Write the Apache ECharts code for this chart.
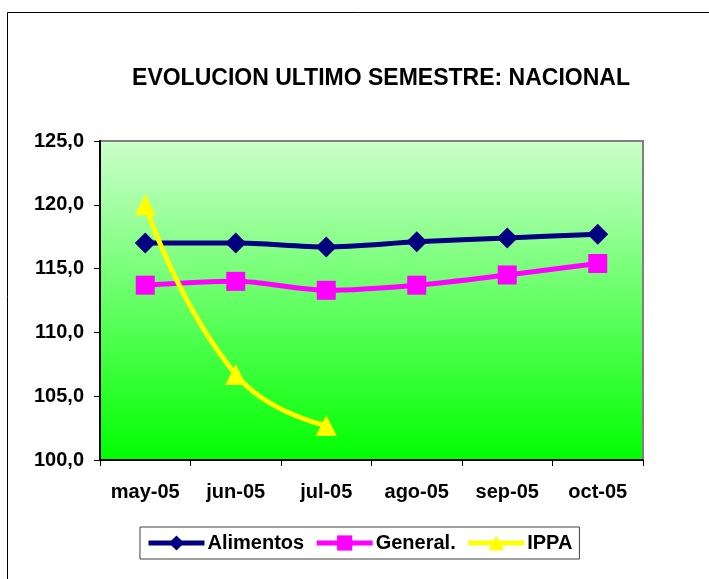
<!DOCTYPE html>
<html>
<head>
<meta charset="utf-8">
<script src="https://cdn.jsdelivr.net/npm/echarts@6/dist/echarts.min.js"></script>
<style>
  html, body { margin: 0; padding: 0; background: #fff; }
  #chart { width: 709px; height: 579px; }
</style>
</head>
<body>
<div id="chart"></div>
<script>
// Monthly index values, May–October 2005
const months = ['may-05', 'jun-05', 'jul-05', 'ago-05', 'sep-05', 'oct-05'];
const alimentos = [117.0, 117.0, 116.7, 117.1, 117.4, 117.7];
const general = [113.7, 114.0, 113.3, 113.7, 114.5, 115.4];
const ippa = [120.0, 106.7, 102.7, null, null, null];
const yTicks = { min: 100, max: 125, step: 5 };

const FONT = 'Liberation Sans, Arial, sans-serif';

const chart = echarts.init(document.getElementById('chart'), null, { renderer: 'canvas' });

chart.setOption({
  animation: false,
  backgroundColor: '#ffffff',
  title: {
    text: 'EVOLUCION ULTIMO SEMESTRE: NACIONAL',
    left: 376,
    top: 62,
    textAlign: 'center',
    textStyle: { fontFamily: FONT, fontWeight: 'bold', fontSize: 23, color: '#000' }
  },
  graphic: [{
    type: 'rect',
    shape: { x: 7.5, y: 12.5, width: 720, height: 600 },
    style: { fill: 'none', stroke: '#000', lineWidth: 1 },
    silent: true,
    z: -10
  }],
  legend: {
    left: 140,
    top: 527,
    padding: [6, 7, 6, 6],
    itemGap: 10,
    itemWidth: 56,
    itemHeight: 19,
    borderColor: '#404040',
    borderWidth: 1,
    lineStyle: { width: 5 },
    textStyle: { fontFamily: FONT, fontWeight: 'bold', fontSize: 20, color: '#000', padding: [0, 0, 0, -2] },
    data: ['Alimentos', 'General.', 'IPPA']
  },
  grid: {
    left: 100,
    right: 66,
    top: 141,
    bottom: 119,
    show: true,
    borderColor: '#808080',
    borderWidth: 2,
    backgroundColor: new echarts.graphic.LinearGradient(0, 0, 0, 1, [
      { offset: 0, color: '#ccffcc' },
      { offset: 1, color: '#00ff00' }
    ])
  },
  xAxis: {
    type: 'category',
    data: months,
    boundaryGap: true,
    axisLine: { lineStyle: { color: '#000', width: 2 } },
    axisTick: { show: true, length: 6, lineStyle: { color: '#000', width: 1 } },
    axisLabel: { margin: 22, fontFamily: FONT, fontWeight: 'bold', fontSize: 20, color: '#000' },
    splitLine: { show: false }
  },
  yAxis: {
    type: 'value',
    min: yTicks.min,
    max: yTicks.max,
    interval: yTicks.step,
    axisLine: { show: true, lineStyle: { color: '#000', width: 2 } },
    axisTick: { show: true, length: 6, lineStyle: { color: '#000', width: 1 } },
    axisLabel: {
      margin: 16,
      fontFamily: FONT, fontWeight: 'bold', fontSize: 20, color: '#000',
      formatter: v => v.toFixed(1).replace('.', ',')
    },
    splitLine: { show: false }
  },
  series: [
    {
      name: 'Alimentos',
      type: 'line',
      data: alimentos,
      smooth: 0.3,
      symbol: 'diamond',
      symbolSize: 21,
      itemStyle: { color: '#000080' },
      lineStyle: { color: '#000080', width: 5 },
      z: 3
    },
    {
      name: 'General.',
      type: 'line',
      data: general,
      smooth: 0.3,
      symbol: 'rect',
      symbolSize: 19,
      itemStyle: { color: '#ff00ff' },
      lineStyle: { color: '#ff00ff', width: 5 },
      z: 2
    },
    {
      name: 'IPPA',
      type: 'line',
      data: ippa,
      smooth: 0.5,
      connectNulls: false,
      symbol: 'triangle',
      symbolSize: 21,
      itemStyle: { color: '#ffff00' },
      lineStyle: { color: '#ffff00', width: 5 },
      z: 4
    }
  ]
});
</script>
</body>
</html>
